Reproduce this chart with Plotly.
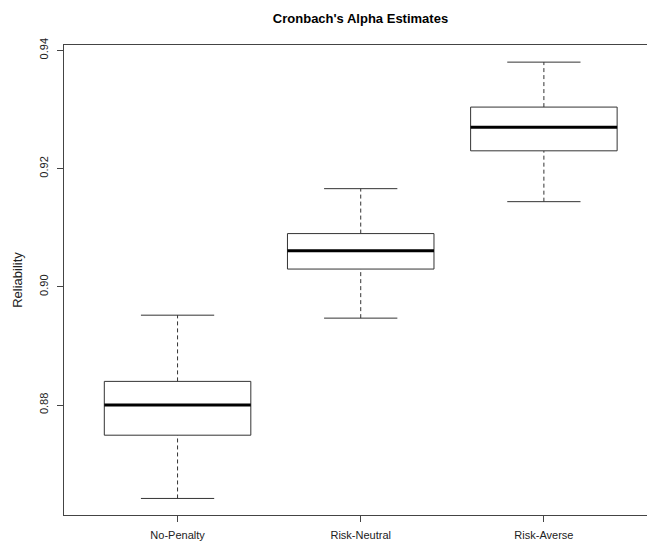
import plotly.graph_objects as go

categories = ["No-Penalty", "Risk-Neutral", "Risk-Averse"]
lower_whisker = [0.8642, 0.8947, 0.9144]
q1 = [0.8749, 0.9030, 0.9230]
median = [0.8800, 0.9061, 0.9270]
q3 = [0.8840, 0.9090, 0.9304]
upper_whisker = [0.8952, 0.9166, 0.9380]
y_ticks = [0.88, 0.90, 0.92, 0.94]

BOX_HALF = 0.4
CAP_HALF = 0.2
LINE = "#333333"

fig = go.Figure()
for i, name in enumerate(categories):
    x = i + 1
    # dashed whiskers
    for a, b in [(q3[i], upper_whisker[i]), (lower_whisker[i], q1[i])]:
        fig.add_trace(go.Scatter(x=[x, x], y=[a, b], mode="lines",
                                 line=dict(color=LINE, width=1, dash="4px,3px"),
                                 hoverinfo="skip", showlegend=False))
    # caps
    for v in [upper_whisker[i], lower_whisker[i]]:
        fig.add_trace(go.Scatter(x=[x - CAP_HALF, x + CAP_HALF], y=[v, v], mode="lines",
                                 line=dict(color=LINE, width=1),
                                 hoverinfo="skip", showlegend=False))
    # box
    fig.add_trace(go.Scatter(
        x=[x - BOX_HALF, x + BOX_HALF, x + BOX_HALF, x - BOX_HALF, x - BOX_HALF],
        y=[q1[i], q1[i], q3[i], q3[i], q1[i]], mode="lines",
        fill="toself", fillcolor="white",
        line=dict(color=LINE, width=1), name=name, showlegend=False))
    # median
    fig.add_trace(go.Scatter(x=[x - BOX_HALF, x + BOX_HALF], y=[median[i], median[i]],
                             mode="lines", line=dict(color="black", width=3),
                             hoverinfo="skip", showlegend=False))

fig.update_layout(
    width=647, height=543,
    margin=dict(l=64, r=0, t=45, b=28, autoexpand=False),
    plot_bgcolor="white", paper_bgcolor="white",
    font=dict(family="Liberation Sans, Arial, sans-serif", size=11, color="#222222"),
    title=dict(text="<b>Cronbach's Alpha Estimates</b>", x=(360.5 - 64) / 583, xref="paper",
               xanchor="center", y=1 - 18 / 543, yanchor="middle",
               font=dict(size=13, color="black")),
    xaxis=dict(range=[0.38, 3.563], tickmode="array", tickvals=[1, 2, 3],
               ticktext=categories, showgrid=False, zeroline=False,
               showline=True, linecolor="#444444", linewidth=1, mirror=True,
               ticks="outside", ticklen=6, tickcolor="#444444",
               ticklabelstandoff=4),
    yaxis=dict(range=[0.8614, 0.9409], tickmode="array", tickvals=y_ticks,
               ticktext=[f"{v:.2f}" for v in y_ticks], tickangle=-90,
               showgrid=False, zeroline=False,
               showline=True, linecolor="#444444", linewidth=1, mirror=False,
               ticks="outside", ticklen=6, tickcolor="#444444",
               ticklabelstandoff=5,
               title=dict(text="Reliability", standoff=12)),
)

fig.write_html("out.html", config={"displayModeBar": False},
               post_script="document.body.style.margin='0';document.body.style.padding='0';")
